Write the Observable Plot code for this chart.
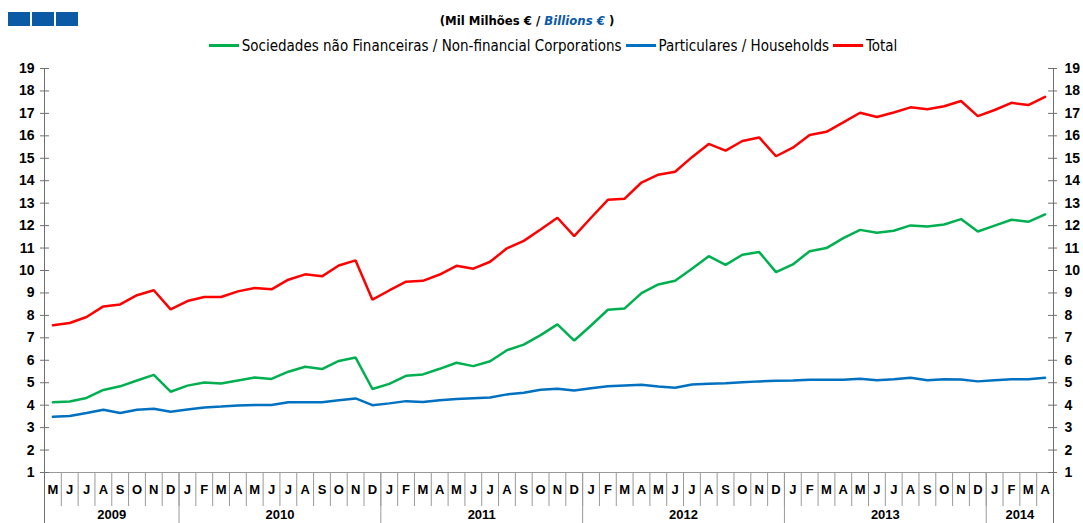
<!DOCTYPE html>
<html><head><meta charset="utf-8">
<script src="https://cdn.jsdelivr.net/npm/d3@7"></script>
<script src="https://cdn.jsdelivr.net/npm/@observablehq/plot@0.6"></script>
<style>
body{margin:0;background:#fff;}
#wrap{position:relative;width:1083px;height:523px;overflow:hidden;background:#fff;}
.sq{position:absolute;top:12px;width:22px;height:14px;background:#0b5aa6;}
#sub{position:absolute;top:13px;left:0;width:1054px;text-align:center;font:bold 13px "Liberation Sans Narrow","DejaVu Sans Condensed",sans-serif;color:#000;}
#sub i{color:#0b5aa6;}
#legend{position:absolute;top:37px;left:0;width:1102px;text-align:center;font:15px "Liberation Sans Narrow","DejaVu Sans Condensed",sans-serif;color:#000;white-space:nowrap;}
#legend span.sw{display:inline-block;width:30px;height:3px;vertical-align:middle;margin:0 3px 0 4px;position:relative;top:-1px;}
#chart{position:absolute;top:0;left:0;}
</style></head>
<body><div id="wrap">
<div class="sq" style="left:8px"></div><div class="sq" style="left:32px"></div><div class="sq" style="left:56px"></div>
<div id="sub">(Mil Milhões € / <i>Billions €</i> )</div>
<div id="legend"></div>
<div id="chart"></div>
</div>
<script>
const seriesNames = ["Sociedades não Financeiras / Non-financial Corporations","Particulares / Households","Total"];
const seriesColors = ["#00b050","#0070c0","#ff0000"];
const monthLetters = [
 "M","J","J","A","S","O","N","D",
 "J","F","M","A","M","J","J","A","S","O","N","D",
 "J","F","M","A","M","J","J","A","S","O","N","D",
 "J","F","M","A","M","J","J","A","S","O","N","D",
 "J","F","M","A","M","J","J","A","S","O","N","D",
 "J","F","M","A"];
const yearLabels = ["2009","2010","2011","2012","2013","2014"];
const monthsInYear = [8,12,12,12,12,4];
const yTicks = [1,2,3,4,5,6,7,8,9,10,11,12,13,14,15,16,17,18,19];
const nfc = [
 4.13,4.16,4.32,4.68,4.84,5.10,5.35,4.60,
 4.87,5.01,4.97,5.10,5.23,5.17,5.49,5.71,5.61,5.97,6.12,4.72,
 4.95,5.31,5.37,5.62,5.89,5.74,5.96,6.45,6.70,7.12,7.60,6.88,
 7.55,8.25,8.31,8.99,9.38,9.54,10.08,10.64,10.25,10.70,10.82,9.93,
 10.27,10.86,11.00,11.44,11.81,11.68,11.77,12.01,11.96,12.05,12.29,11.74,
 12.00,12.26,12.17,12.50];
const households = [
 3.48,3.52,3.65,3.80,3.65,3.80,3.84,3.71,
 3.81,3.90,3.94,3.99,4.01,4.01,4.13,4.13,4.13,4.22,4.30,4.00,
 4.08,4.18,4.14,4.22,4.27,4.31,4.34,4.48,4.55,4.69,4.73,4.65,
 4.75,4.84,4.88,4.91,4.83,4.78,4.92,4.95,4.98,5.02,5.06,5.09,
 5.10,5.13,5.13,5.13,5.18,5.11,5.15,5.22,5.11,5.15,5.14,5.06,
 5.11,5.15,5.15,5.22];
const total = [
 7.56,7.66,7.93,8.40,8.49,8.90,9.12,8.27,
 8.64,8.82,8.82,9.07,9.22,9.16,9.59,9.83,9.74,10.22,10.45,8.70,
 9.11,9.50,9.54,9.82,10.21,10.08,10.39,10.99,11.32,11.83,12.35,11.53,
 12.35,13.15,13.20,13.92,14.27,14.40,15.05,15.64,15.34,15.77,15.93,15.09,
 15.47,16.04,16.18,16.60,17.03,16.84,17.04,17.27,17.18,17.32,17.55,16.88,
 17.15,17.47,17.37,17.74];

// legend
const leg = document.getElementById("legend");
seriesNames.forEach((n,k)=>{
  const sw = document.createElement("span"); sw.className="sw"; sw.style.background=seriesColors[k];
  leg.appendChild(sw); leg.appendChild(document.createTextNode(n));
});

const N = monthLetters.length;
const idx = d3.range(N);
const xDom = [-0.5, N - 0.5];
const bounds = d3.range(N + 1).map(i => i - 0.5);
const yearBounds = [-0.5];
const yearMid = [];
let acc = 0;
monthsInYear.forEach(c => { yearMid.push(acc + c/2 - 0.5); acc += c; yearBounds.push(acc - 0.5); });

const allSeries = [nfc, households, total];
const rows = allSeries.flatMap((vals,k) => vals.map((v,i) => ({i, v, s: seriesNames[k]})));

const font = "Liberation Sans, Arial, sans-serif";
const chart = Plot.plot({
  width: 1083, height: 523,
  marginTop: 68, marginBottom: 51, marginLeft: 44, marginRight: 30,
  style: {fontFamily: font, background: "transparent", overflow: "visible"},
  x: {type: "linear", domain: xDom, label: null},
  y: {domain: [1, 19], label: null},
  color: {domain: seriesNames, range: seriesColors},
  marks: [
    Plot.axisX({ticks: bounds, tickSize: 34, tickFormat: () => "", stroke: "#9a9a9a", label: null}),
    Plot.axisX({ticks: yearBounds, tickSize: 51, tickFormat: () => "", stroke: "#9a9a9a", label: null}),
    Plot.axisX({ticks: xDom, tickSize: 51, tickFormat: () => "", stroke: "#707070", label: null}),
    Plot.axisX({ticks: idx, tickSize: 0, tickPadding: 12, tickFormat: i => monthLetters[i], fontSize: 13, fontWeight: "bold", fill: "#000", label: null}),
    Plot.axisX({ticks: yearMid, tickSize: 0, tickPadding: 37, tickFormat: (d, k) => yearLabels[k], fontSize: 13, fontWeight: "bold", fill: "#000", label: null}),
    Plot.ruleX(xDom, {stroke: "#707070"}),
    Plot.ruleY([1], {stroke: "#9a9a9a"}),
    Plot.axisY({anchor: "left", ticks: yTicks, tickSize: 0, tickPadding: 10, fontSize: 14, fontWeight: "bold", fill: "#000", label: null}),
    Plot.axisY({anchor: "right", ticks: yTicks, tickSize: 0, tickPadding: 11, fontSize: 14, fontWeight: "bold", fill: "#000", label: null}),
    Plot.ruleY(yTicks, {y: d => d, x1: xDom[0], x2: xDom[0], insetLeft: -4, insetRight: -5, stroke: "#707070"}),
    Plot.ruleY(yTicks, {y: d => d, x1: xDom[1], x2: xDom[1], insetLeft: -5, insetRight: -4, stroke: "#707070"}),
    Plot.line(rows, {x: "i", y: "v", z: "s", stroke: "s", strokeWidth: 2.5, strokeLinejoin: "miter"})
  ]
});
document.getElementById("chart").appendChild(chart);
</script>
</body></html>
